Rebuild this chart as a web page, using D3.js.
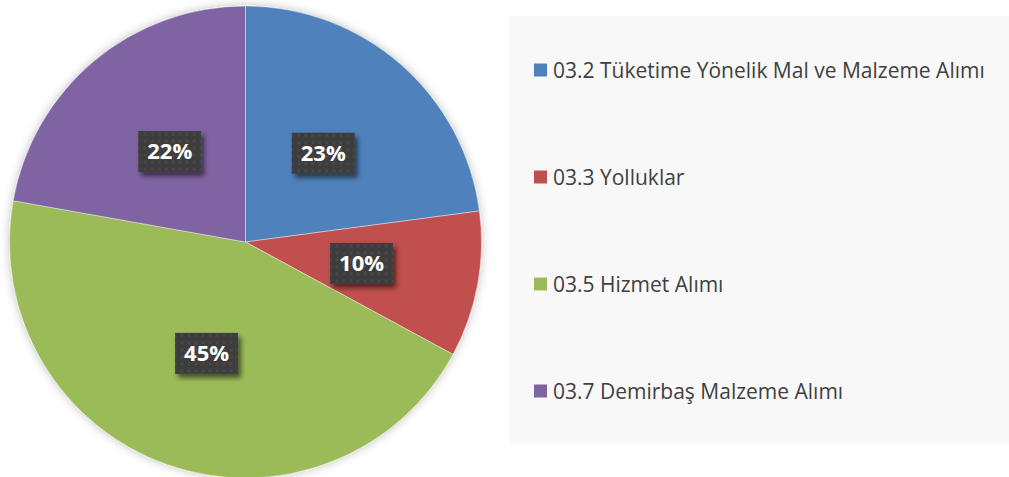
<!DOCTYPE html>
<html>
<head>
<meta charset="utf-8">
<script src="https://cdn.jsdelivr.net/npm/d3@7/dist/d3.min.js"></script>
<style>
  html, body { margin: 0; padding: 0; background: #fff; }
  svg { display: block; }
</style>
</head>
<body>
<svg id="chart" width="1009" height="477"></svg>
<script>
const categories = [
  "03.2 Tüketime Yönelik Mal ve Malzeme Alımı",
  "03.3 Yolluklar",
  "03.5 Hizmet Alımı",
  "03.7 Demirbaş Malzeme Alımı"
];
const shares = [22.9, 10.0, 44.9, 22.2];
const colors = ["#4F81BD", "#C0504D", "#9BBB59", "#8064A2"];

const svg = d3.select("#chart");
const cx = 245.5, cy = 242, radius = 236;

const defs = svg.append("defs");

// soft glow round the pie
const glow = defs.append("filter").attr("id", "pieShadow")
  .attr("x", "-10%").attr("y", "-10%").attr("width", "120%").attr("height", "120%");
glow.append("feDropShadow").attr("dx", 0).attr("dy", 0)
  .attr("stdDeviation", 5).attr("flood-color", "#000").attr("flood-opacity", 0.25);

// label box shadow
const boxShadow = defs.append("filter").attr("id", "boxShadow")
  .attr("x", "-20%").attr("y", "-20%").attr("width", "150%").attr("height", "160%");
boxShadow.append("feDropShadow").attr("dx", 3).attr("dy", 4)
  .attr("stdDeviation", 2.5).attr("flood-color", "#000").attr("flood-opacity", 0.55);

// dotted texture on the label boxes
const pat = defs.append("pattern").attr("id", "dots")
  .attr("width", 7).attr("height", 7).attr("patternUnits", "userSpaceOnUse");
pat.append("rect").attr("width", 7).attr("height", 7).attr("fill", "#3e3e3e");
pat.append("circle").attr("cx", 3.5).attr("cy", 3.5).attr("r", 1.2).attr("fill", "#4c4c4c");

const pie = d3.pie().sort(null).value(d => d);
const arcs = pie(shares);
const arc = d3.arc().innerRadius(0).outerRadius(radius);
const total = d3.sum(shares);

const g = svg.append("g").attr("transform", "translate(" + cx + "," + cy + ")");

g.append("g").attr("filter", "url(#pieShadow)")
  .selectAll("path")
  .data(arcs)
  .enter()
  .append("path")
  .attr("d", arc)
  .attr("fill", (d, i) => colors[i])
  .attr("stroke", "rgba(255,255,255,0.5)")
  .attr("stroke-width", 0.8);

const labels = g.selectAll("g.lbl")
  .data(arcs)
  .enter()
  .append("g")
  .attr("class", "lbl")
  .attr("transform", d => "translate(" + arc.centroid(d) + ")");

const bw = 63, bh = 41;
labels.append("rect")
  .attr("x", -bw / 2).attr("y", -bh / 2)
  .attr("width", bw).attr("height", bh)
  .attr("fill", "url(#dots)")
  .attr("filter", "url(#boxShadow)");

labels.append("text")
  .attr("text-anchor", "middle")
  .attr("dy", "0.36em")
  .attr("fill", "#fff")
  .style("font-family", "'Open Sans', sans-serif")
  .style("font-weight", "bold")
  .style("font-size", "22px")
  .text(d => Math.round(d.value / total * 100) + "%");

// legend
const legend = svg.append("g");
legend.append("rect")
  .attr("x", 509).attr("y", 16)
  .attr("width", 500).attr("height", 429)
  .attr("fill", "#f8f8f8");

const ly = d3.scalePoint().domain(categories).range([70, 391]);

const items = legend.selectAll("g.item")
  .data(categories)
  .enter()
  .append("g")
  .attr("class", "item")
  .attr("transform", d => "translate(534," + ly(d) + ")");

items.append("rect")
  .attr("x", 0).attr("y", -6.5)
  .attr("width", 13).attr("height", 13)
  .attr("fill", (d, i) => colors[i]);

items.append("text")
  .attr("x", 19)
  .attr("dy", "0.36em")
  .attr("fill", "#404040")
  .style("font-family", "'Open Sans', sans-serif")
  .style("font-size", "21px")
  .text(d => d);
</script>
</body>
</html>
